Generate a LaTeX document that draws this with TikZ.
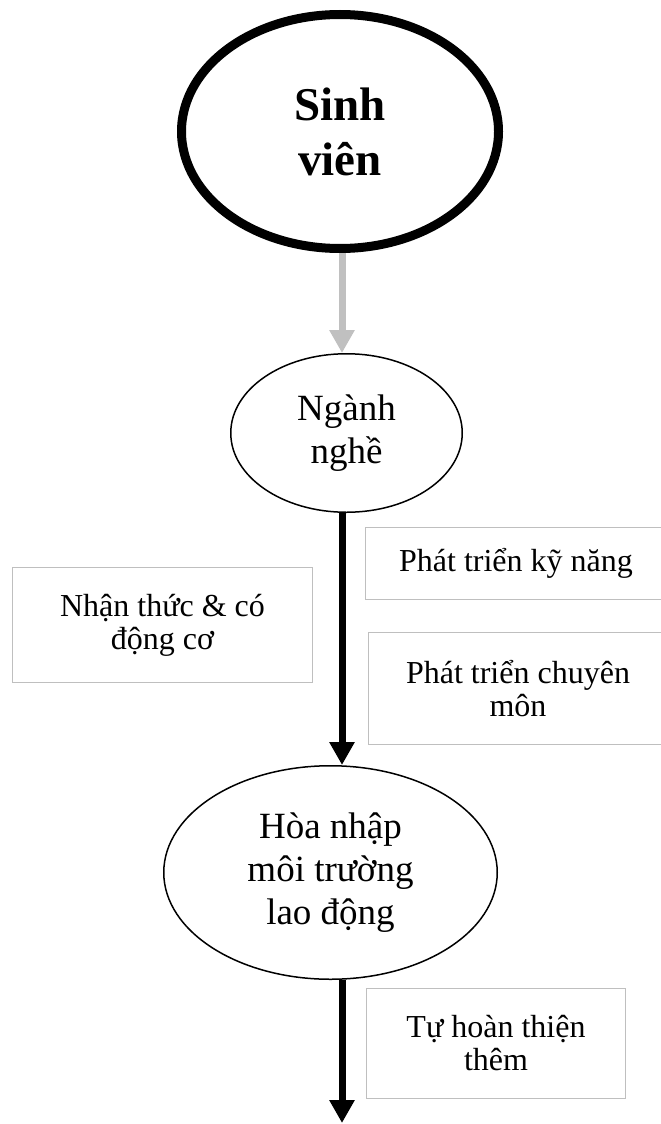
\documentclass[tikz,border=0pt]{standalone}
\usepackage{fontspec}
\setmainfont{Liberation Serif}
\usetikzlibrary{shapes.geometric,arrows.meta}
\definecolor{boxgray}{RGB}{191,191,191}
\definecolor{arrowgray}{RGB}{192,192,192}
\begin{document}
\begin{tikzpicture}[x=1pt,y=-1pt,
    oval/.style={draw=black,ellipse,inner sep=0pt,align=center,line width=1.5pt,font=\fontsize{37}{43}\selectfont},
    gbox/.style={draw=boxgray,line width=1.5pt,inner sep=0pt,align=center,font=\fontsize{32}{33}\selectfont},
    flow/.style={line width=7pt,-{Triangle[width=24pt,length=23pt]}}]
    \useasboundingbox (0,0) rectangle (661,1124);
    \clip (0,0) rectangle (661,1124);
    \node [oval,line width=9pt,minimum width=317pt,minimum height=234pt,font=\fontsize{47}{55}\selectfont\bfseries] (sv) at (340,131.5) {Sinh\\viên};
    \node [oval,minimum width=231.5pt,minimum height=158.5pt] (nn) at (346.5,433) {Ngành\\nghề};
    \node [oval,minimum width=333.5pt,minimum height=213.5pt] (hn) at (330.5,872.5) {Hòa nhập\\môi trường\\lao động};
    \node [gbox,minimum width=300pt,minimum height=115pt] (nt) at (162.5,625) {Nhận thức \& có\\động cơ};
    \node [gbox,minimum width=301pt,minimum height=72pt] (kn) at (516,563.5) {Phát triển kỹ năng};
    \node [gbox,minimum width=299pt,minimum height=112pt] (cm) at (518,688.5) {Phát triển chuyên\\môn};
    \node [gbox,minimum width=259pt,minimum height=110pt] (th) at (496,1043.5) {Tự hoàn thiện\\thêm};
    \coordinate (ax) at (342,0);
    \coordinate (end) at (342,1123);
    \draw [flow,draw=arrowgray,fill=arrowgray] (sv.south -| ax) -- (nn.north -| ax);
    \draw [flow] (nn.south -| ax) -- (hn.north -| ax);
    \draw [flow] (hn.south -| ax) -- (end);
\end{tikzpicture}
\end{document}
